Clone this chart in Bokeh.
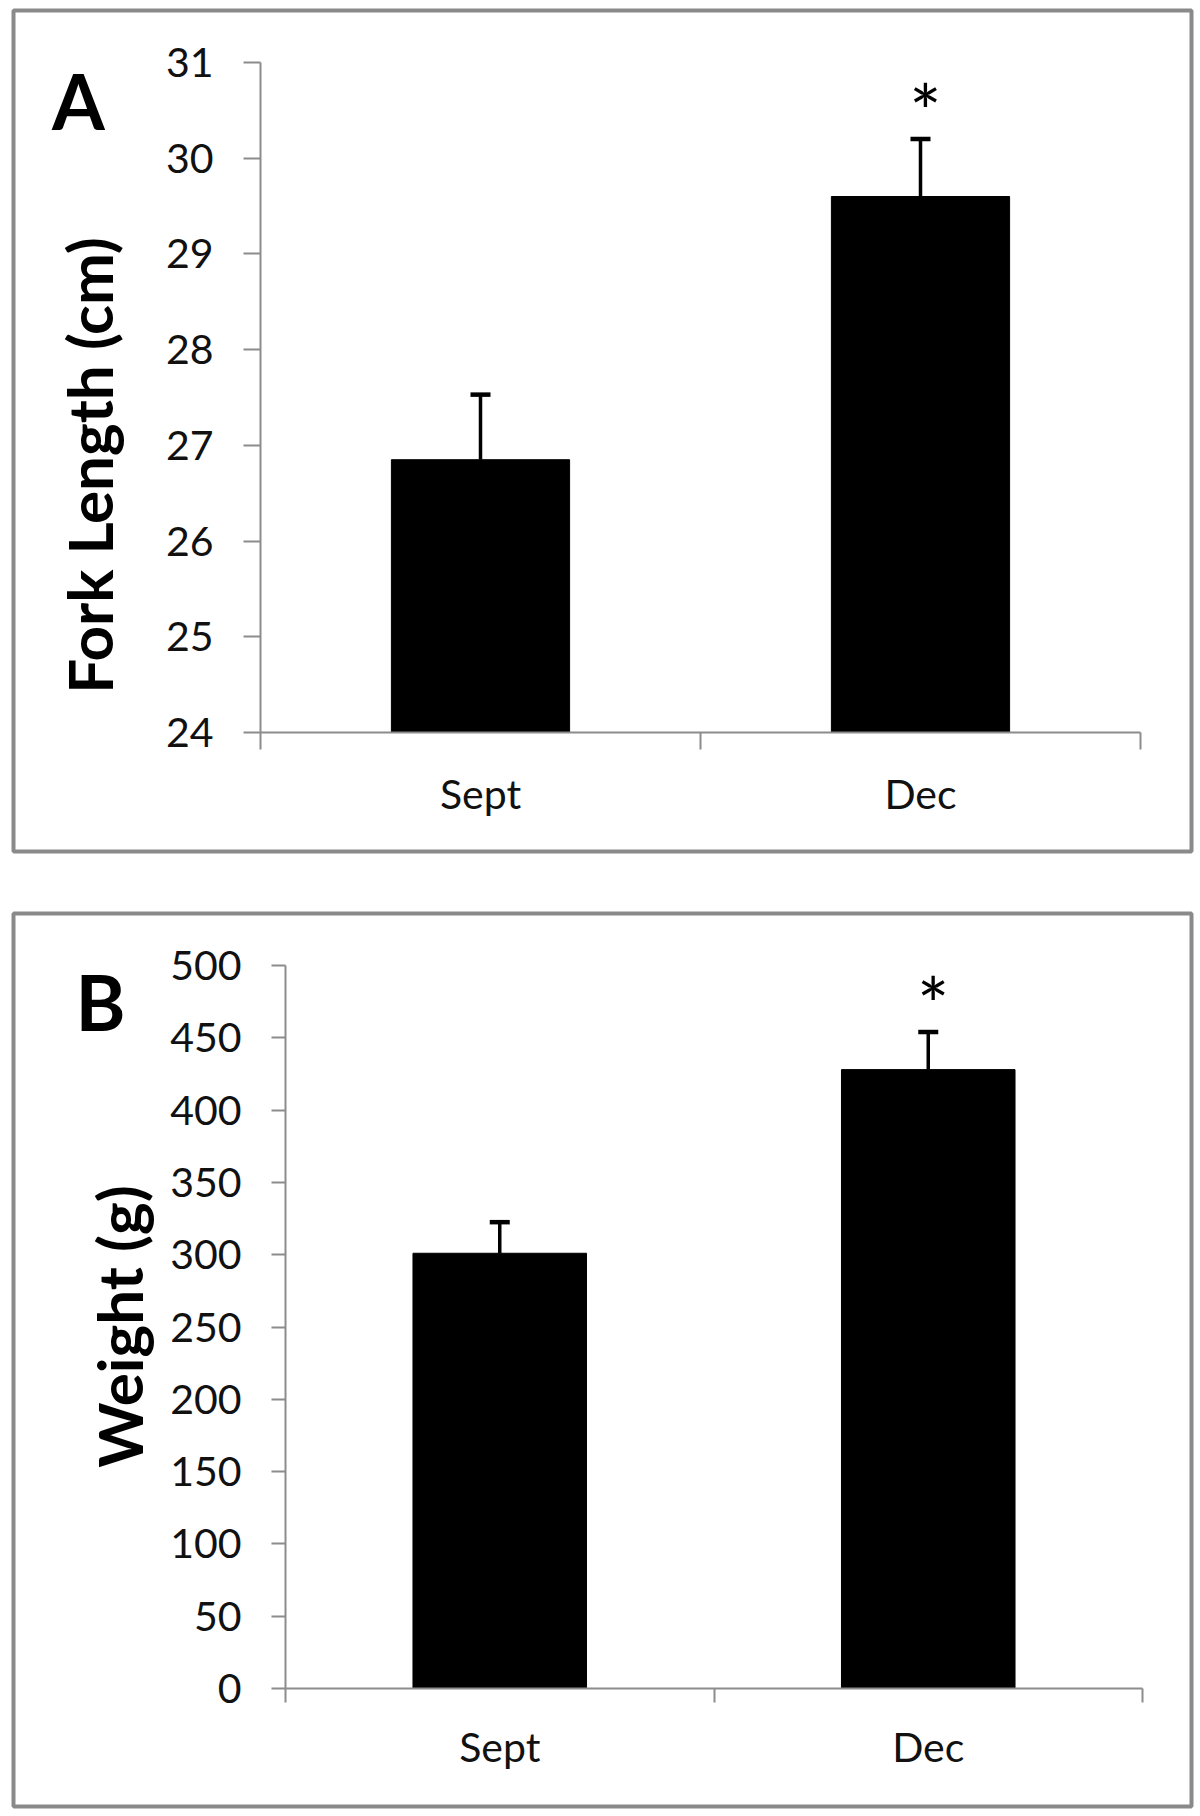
import math
from bokeh.plotting import figure
from bokeh.models import Range1d, FixedTicker, Whisker, TeeHead, ColumnDataSource, Label, LinearAxis
from bokeh.layouts import column
from bokeh.embed import file_html
from bokeh.resources import INLINE
from bokeh.core.properties import value

# ---- data ----
categories = ["Sept", "Dec"]
cat_pos = [0.5, 1.5]
category_edges = [0, 1, 2]
fork_length = [26.85, 29.6]
fork_length_err = [0.68, 0.6]
weight = [301, 428]
weight_err = [21.5, 26]
significance = ["", "*"]
fork_ticks = [24, 25, 26, 27, 28, 29, 30, 31]
weight_ticks = [0, 50, 100, 150, 200, 250, 300, 350, 400, 450, 500]

FONT = "Lato"
AXIS_GRAY = "#8c8c8c"
BORDER_GRAY = "#8a8a8a"


def make_panel(vals, errs, yticks, ylabel, letter, g):
    W, H = g["size"]
    bl, br, bt, bb = g["borders"]
    fl, fr, ft, fb = bl, W - br, bt, H - bb           # frame in canvas px
    cx0, cx2 = g["x_axis_px"]                          # canvas px of x=0 and x=2
    cy_lo, cy_hi = g["y_axis_px"]                      # canvas px of first / last y tick
    ylo, yhi = yticks[0], yticks[-1]
    ppx = (cx2 - cx0) / 2.0
    ppy = (cy_lo - cy_hi) / float(yhi - ylo)

    def px2x(cx):
        return (cx - cx0) / ppx

    def px2y(cy):
        return ylo + (cy_lo - cy) / ppy

    p = figure(width=W, height=H,
               x_range=Range1d(px2x(fl), px2x(fr)),
               y_range=Range1d(px2y(fb), px2y(ft)),
               output_backend="svg", toolbar_location=None,
               x_axis_type=None, y_axis_type=None,
               min_border_left=bl, min_border_right=br,
               min_border_top=bt, min_border_bottom=bb,
               outline_line_color=BORDER_GRAY, outline_line_width=4,
               background_fill_color="white", border_fill_color="white")
    p.xgrid.visible = False
    p.ygrid.visible = False

    xaxis = LinearAxis(ticker=FixedTicker(ticks=cat_pos, minor_ticks=category_edges),
                       major_label_overrides={c: n for c, n in zip(cat_pos, categories)},
                       fixed_location=ylo, bounds=(0, 2))
    xaxis.axis_line_color = AXIS_GRAY
    xaxis.axis_line_width = 2
    xaxis.major_tick_out = 0
    xaxis.major_tick_in = 0
    xaxis.minor_tick_out = g["tick_out"]
    xaxis.minor_tick_in = 0
    xaxis.minor_tick_line_color = AXIS_GRAY
    xaxis.minor_tick_line_width = 2
    xaxis.major_label_text_font = FONT
    xaxis.major_label_text_font_size = "41px"
    xaxis.major_label_text_color = "#111111"
    xaxis.major_label_standoff = g["x_label_standoff"]
    p.add_layout(xaxis, "below")

    yaxis = LinearAxis(ticker=FixedTicker(ticks=yticks), fixed_location=0,
                       bounds=(ylo, yhi))
    yaxis.axis_line_color = AXIS_GRAY
    yaxis.axis_line_width = 2
    yaxis.major_tick_out = g["tick_out"]
    yaxis.major_tick_in = 0
    yaxis.major_tick_line_color = AXIS_GRAY
    yaxis.major_tick_line_width = 2
    yaxis.minor_tick_line_color = None
    yaxis.major_label_text_font = FONT
    yaxis.major_label_text_font_size = "41px"
    yaxis.major_label_text_color = "#111111"
    yaxis.major_label_standoff = g["y_label_standoff"]
    p.add_layout(yaxis, "left")

    p.vbar(x=cat_pos, top=vals, bottom=ylo, width=0.405,
           fill_color="black", line_color="black", line_width=1)

    upper = [v + e for v, e in zip(vals, errs)]
    src = ColumnDataSource(dict(x=cat_pos, lower=vals, upper=upper, sig=significance))
    p.add_layout(Whisker(base="x", lower="lower", upper="upper", source=src,
                         dimension="height", line_color="black", line_width=3.5,
                         upper_head=TeeHead(size=20, line_color="black", line_width=4.5),
                         lower_head=None))
    p.text(x="x", y="upper", text="sig", source=src, text_font=value(FONT),
           text_font_size="76px", text_align="center", text_baseline="alphabetic",
           y_offset=-29, x_offset=5, text_color="black")

    tx, ty = g["title_px"]
    p.add_layout(Label(x=px2x(tx), y=px2y(ty), text=ylabel, angle=math.pi / 2,
                       text_font=FONT, text_font_style="bold", text_font_size="62px",
                       text_align="center", text_baseline="middle", text_color="black"))
    lx, ly = g["letter_px"]
    p.add_layout(Label(x=px2x(lx), y=px2y(ly), text=letter, text_font=FONT,
                       text_font_style="bold", text_font_size="76px",
                       text_align="center", text_baseline="middle", text_color="black"))
    return p


geom_a = dict(size=(1194, 854), borders=(13, 3, 10, 3),
              x_axis_px=(260, 1140), y_axis_px=(732, 62), tick_out=17,
              x_label_standoff=19, y_label_standoff=30,
              title_px=(88, 465), letter_px=(78, 100))
geom_b = dict(size=(1194, 900), borders=(13, 3, 3, 4),
              x_axis_px=(285, 1142), y_axis_px=(778, 55), tick_out=14,
              x_label_standoff=19, y_label_standoff=30,
              title_px=(118, 416), letter_px=(100, 91))

pA = make_panel(fork_length, fork_length_err, fork_ticks, "Fork Length (cm)", "A", geom_a)
pB = make_panel(weight, weight_err, weight_ticks, "Weight (g)", "B", geom_b)

layout = column(pA, pB, spacing=56)
open("out.html", "w").write(file_html(layout, INLINE))
